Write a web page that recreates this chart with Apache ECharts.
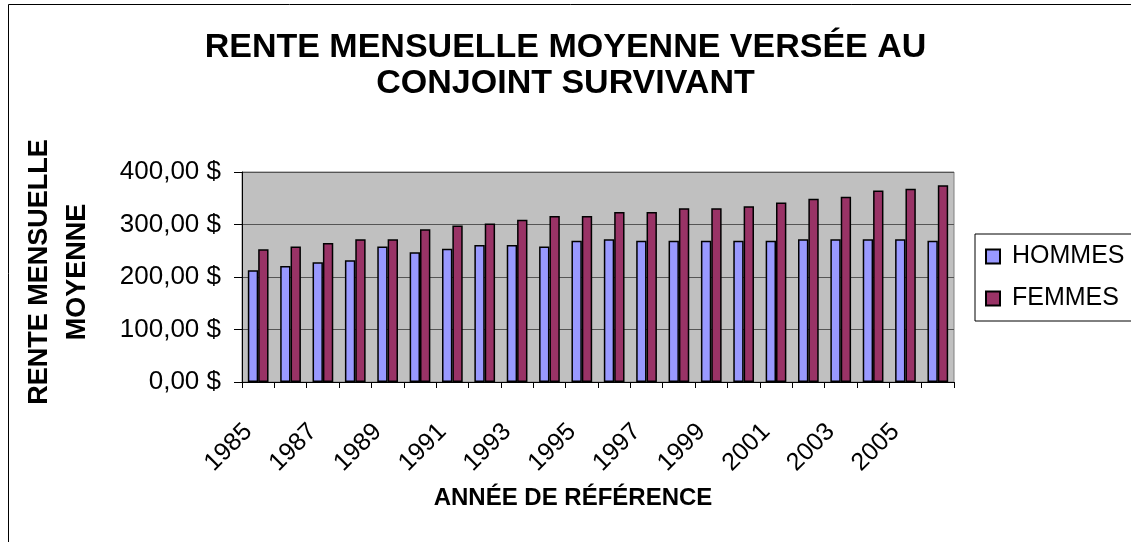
<!DOCTYPE html>
<html>
<head>
<meta charset="utf-8">
<script src="https://cdn.jsdelivr.net/npm/echarts@6/dist/echarts.min.js"></script>
<style>
  html, body { margin: 0; padding: 0; background: #fff; }
  #chart { width: 1131px; height: 542px; }
</style>
</head>
<body>
<div id="chart"></div>
<script>
// années de référence
const years = ["1985", "1986", "1987", "1988", "1989", "1990", "1991", "1992", "1993", "1994", "1995",
  "1996", "1997", "1998", "1999", "2000", "2001", "2002", "2003", "2004", "2005", "2006"];
// rente mensuelle moyenne ($)
const hommes = [213, 221, 228, 232, 258, 247, 254, 261, 261, 258, 269,
  272, 269, 269, 269, 269, 269, 272, 272, 272, 272, 269];
const femmes = [253, 258, 265, 272, 272, 291, 298, 302, 309, 316, 316,
  324, 324, 331, 331, 335, 342, 349, 353, 365, 368, 375];
const yTicks = [0, 100, 200, 300, 400];

const font = '"Liberation Sans", Arial, sans-serif';
const chart = echarts.init(document.getElementById("chart"));

const option = {
  animation: false,
  backgroundColor: "#fff",
  textStyle: { fontFamily: font, color: "#000" },
  graphic: [
    {
      type: "rect",
      shape: { x: 8.5, y: 4.5, width: 1300, height: 700 },
      style: { fill: null, stroke: "#000", lineWidth: 1 },
      silent: true,
    },
  ],
  title: {
    text: "RENTE MENSUELLE MOYENNE VERSÉE AU\nCONJOINT SURVIVANT",
    left: "center",
    top: 30,
    padding: [0, 0, 0, 15],
    textStyle: {
      fontFamily: font,
      fontSize: 34,
      fontWeight: "bold",
      color: "#000",
      lineHeight: 36,
      align: "center",
    },
  },
  legend: {
    orient: "vertical",
    left: 975,
    top: 234,
    padding: [10, 40, 10, 10],
    itemGap: 17,
    itemWidth: 14,
    itemHeight: 14,
    icon: "rect",
    borderColor: "#000",
    borderWidth: 1,
    backgroundColor: "#fff",
    textStyle: { fontFamily: font, fontSize: 25, color: "#000", padding: [0, 0, 0, 7] },
    data: ["HOMMES", "FEMMES"],
  },
  grid: {
    left: 242,
    right: 177,
    top: 172,
    bottom: 160,
    show: true,
    backgroundColor: "#C0C0C0",
    borderColor: "#808080",
    borderWidth: 1,
  },
  xAxis: {
    type: "category",
    data: years,
    name: "ANNÉE DE RÉFÉRENCE",
    nameLocation: "middle",
    nameGap: 104,
    nameTextStyle: {
      fontFamily: font,
      fontSize: 24,
      fontWeight: "bold",
      color: "#000",
      padding: [0, 50, 0, 0],
    },
    axisLine: { lineStyle: { color: "#000", width: 1 } },
    axisTick: { show: true, interval: 0, length: 6, lineStyle: { color: "#000" } },
    axisLabel: {
      interval: 1,
      rotate: 45,
      margin: 36,
      padding: [0, 14, 0, 0],
      fontFamily: font,
      fontSize: 25,
      color: "#000",
    },
  },
  yAxis: {
    type: "value",
    min: yTicks[0],
    max: yTicks[yTicks.length - 1],
    interval: 100,
    name: "RENTE MENSUELLE\nMOYENNE",
    nameLocation: "middle",
    nameRotate: 90,
    nameGap: 145,
    nameTextStyle: {
      fontFamily: font,
      fontSize: 27,
      fontWeight: "bold",
      color: "#000",
      lineHeight: 38,
      align: "center",
      padding: [0, 0, 0, 10],
    },
    axisLine: { show: true, lineStyle: { color: "#000", width: 1 } },
    axisTick: { show: true, length: 8, lineStyle: { color: "#000" } },
    splitLine: { show: true, lineStyle: { color: "#555", width: 1 } },
    axisLabel: {
      margin: 21,
      fontFamily: font,
      fontSize: 26,
      color: "#000",
      formatter: (v) => v.toFixed(2).replace(".", ",") + " $",
    },
  },
  series: [
    {
      name: "HOMMES",
      type: "bar",
      data: hommes,
      barGap: "0%",
      barCategoryGap: "36%",
      itemStyle: { color: "#9999FF", borderColor: "#000", borderWidth: 1.5 },
    },
    {
      name: "FEMMES",
      type: "bar",
      data: femmes,
      barGap: "0%",
      barCategoryGap: "36%",
      itemStyle: { color: "#993366", borderColor: "#000", borderWidth: 1.5 },
    },
  ],
};

chart.setOption(option);
</script>
</body>
</html>
